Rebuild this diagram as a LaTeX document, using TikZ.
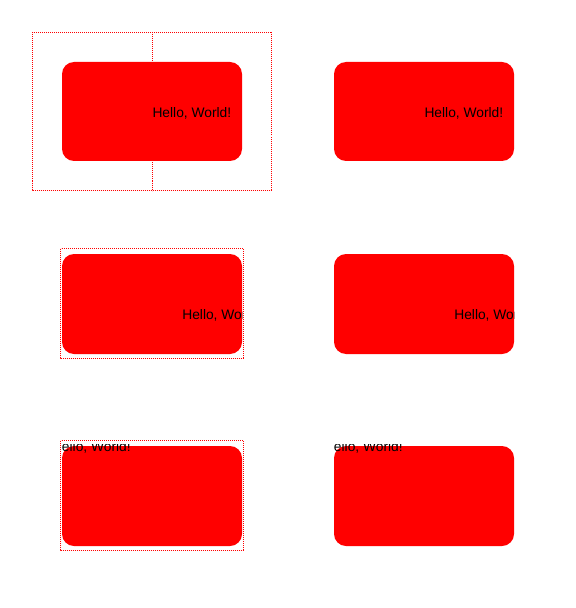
\documentclass[tikz,border=0pt]{standalone}
\usepackage{fontspec}
\setmainfont{Liberation Sans}
\begin{document}
\begin{tikzpicture}[x=1bp,y=-1bp,
  card/.style={fill=red, draw=none, rounded corners=12bp},
  bbox/.style={draw=red, line width=1bp, dash pattern=on 1bp off 1bp},
  hello/.style={inner sep=0pt, outer sep=0pt, anchor=base west, font=\fontsize{13.8bp}{16bp}\selectfont, text=black}]
\useasboundingbox (0,0) rectangle (576,608);
% row 1
\draw[bbox] (32.5,32.5) rectangle (271.5,190.5);
\draw[bbox] (152.5,32.5) -- (152.5,190.5);
\fill[card] (62,62) rectangle (242,161);
\node[hello] (t1) at (152.5,117.5) {Hello, World!};
\fill[card] (334,62) rectangle (514,161);
\node[hello] (t2) at (424.5,117.5) {Hello, World!};
% row 2
\draw[bbox] (60.5,248.5) rectangle (243.5,358.5);
\fill[card] (62,254) rectangle (242,354);
\begin{scope}
\clip (62,250) rectangle (242,357);
\node[hello] (t3) at (182.3,319.3) {Hello, World!};
\end{scope}
\fill[card] (334,254) rectangle (514,354);
\begin{scope}
\clip (334,250) rectangle (514,357);
\node[hello] (t4) at (454.3,319.3) {Hello, World!};
\end{scope}
% row 3
\draw[bbox] (60.5,440.5) rectangle (243.5,550.5);
\fill[card] (62,446) rectangle (242,546);
\begin{scope}
\clip (62,444.5) rectangle (242,549);
\node[hello] (t5) at (52,451.5) {Hello, World!};
\end{scope}
\fill[card] (334,446) rectangle (514,546);
\begin{scope}
\clip (334,444.5) rectangle (514,549);
\node[hello] (t6) at (324,451.5) {Hello, World!};
\end{scope}
\end{tikzpicture}
\end{document}
